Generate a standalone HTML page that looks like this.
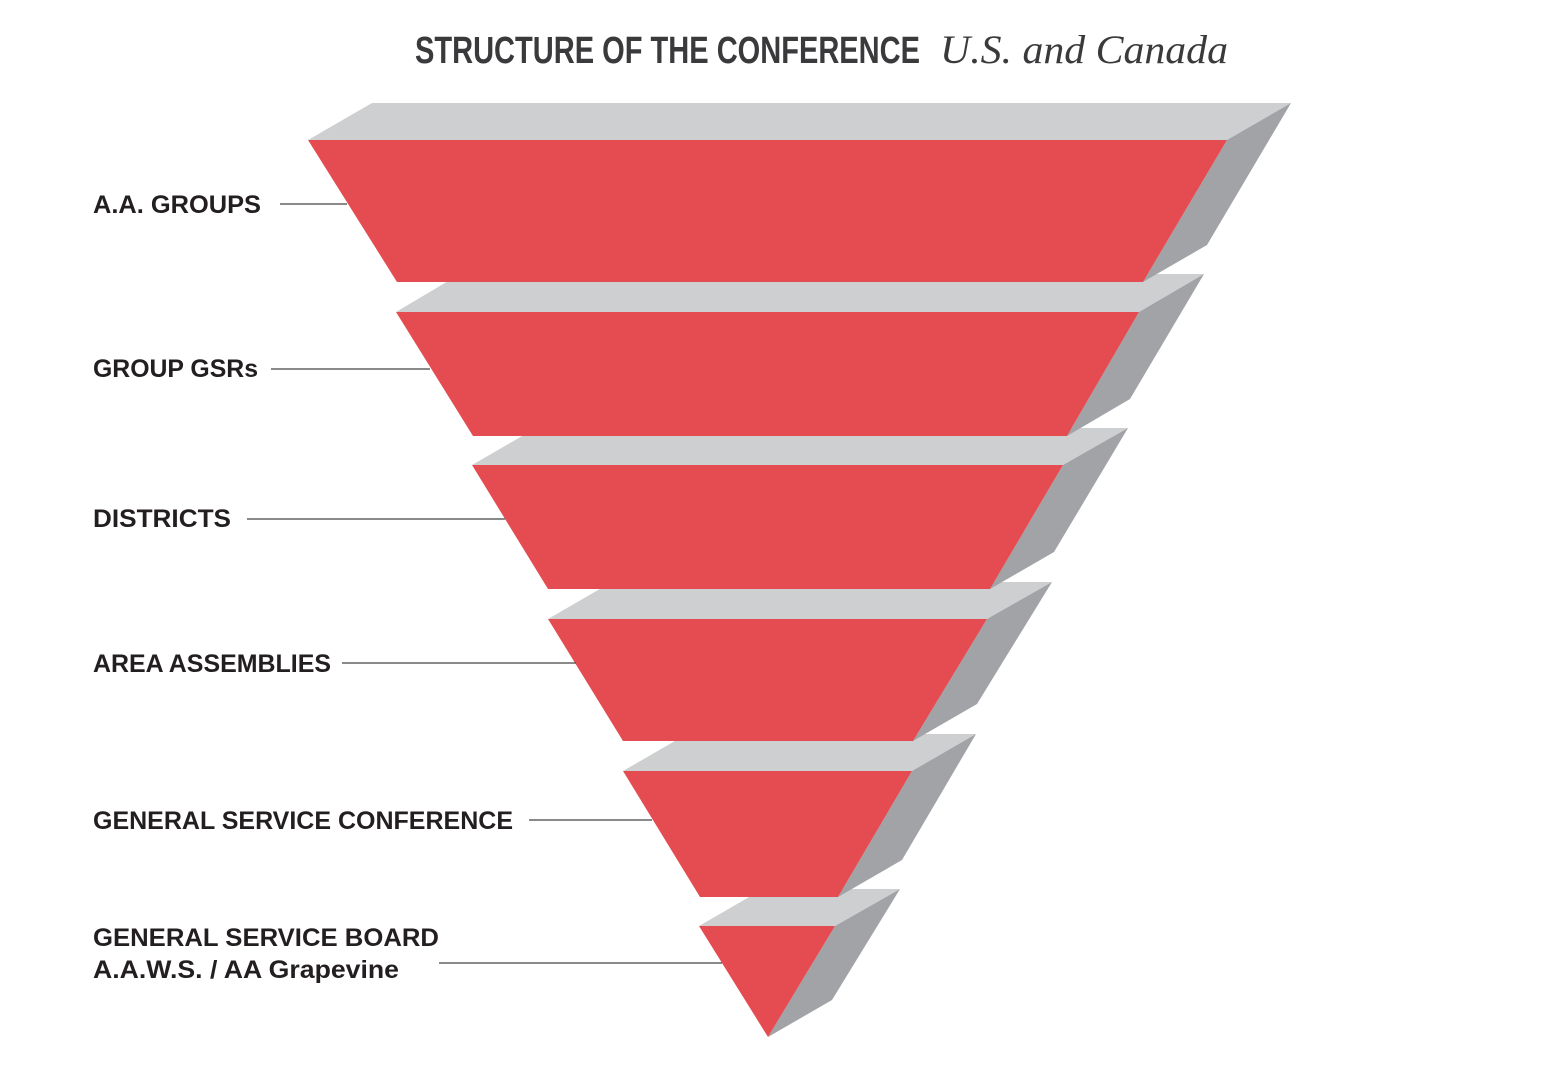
<!DOCTYPE html>
<html><head><meta charset="utf-8"><style>html,body{margin:0;padding:0;background:#fff}</style></head>
<body>
<svg width="1560" height="1075" viewBox="0 0 1560 1075" xmlns="http://www.w3.org/2000/svg">
<rect width="1560" height="1075" fill="#fff"/>
<text x="415" y="63" font-family="Liberation Sans, sans-serif" font-weight="bold" font-size="38" fill="#3a3a3c" textLength="505" lengthAdjust="spacingAndGlyphs">STRUCTURE OF THE CONFERENCE</text>
<text x="940" y="63" font-family="Liberation Serif, serif" font-style="italic" font-size="40" fill="#3a3a3c" textLength="288" lengthAdjust="spacingAndGlyphs">U.S. and Canada</text>
<g stroke="none">
<!-- L6 -->
<polygon points="699,926 763,889 900,889 835,926" fill="#cdcfd1"/>
<polygon points="835,926 900,889 832,1000 768,1037" fill="#a1a3a6"/>
<polygon points="699,926 835,926 768,1037" fill="#e44c52"/>
<!-- L5 -->
<polygon points="623,771 687,734 976,734 912,771" fill="#cdcfd1"/>
<polygon points="912,771 976,734 902,860 838,897" fill="#a1a3a6"/>
<polygon points="623,771 912,771 838,897 700,897" fill="#e44c52"/>
<!-- L4 -->
<polygon points="548,619 612,582 1052,582 987,619" fill="#cdcfd1"/>
<polygon points="987,619 1052,582 977,704 913,741" fill="#a1a3a6"/>
<polygon points="548,619 987,619 913,741 623,741" fill="#e44c52"/>
<!-- L3 -->
<polygon points="472,465 536,428 1128,428 1063,465" fill="#cdcfd1"/>
<polygon points="1063,465 1128,428 1054,552 990,589" fill="#a1a3a6"/>
<polygon points="472,465 1063,465 990,589 548,589" fill="#e44c52"/>
<!-- L2 -->
<polygon points="396,312 460,274 1204,274 1139,312" fill="#cdcfd1"/>
<polygon points="1139,312 1204,274 1130,399 1067,436" fill="#a1a3a6"/>
<polygon points="396,312 1139,312 1067,436 473,436" fill="#e44c52"/>
<!-- L1 -->
<polygon points="308,140 372,103 1291,103 1227,140" fill="#cdcfd1"/>
<polygon points="1227,140 1291,103 1207,245 1143,282" fill="#a1a3a6"/>
<polygon points="308,140 1227,140 1143,282 397,282" fill="#e44c52"/>
</g>
<g stroke="#444" stroke-width="1.3">
<line x1="280" y1="204" x2="347" y2="204"/>
<line x1="271" y1="369" x2="430" y2="369"/>
<line x1="247" y1="519" x2="505" y2="519"/>
<line x1="342" y1="663" x2="576" y2="663"/>
<line x1="529" y1="820" x2="652" y2="820"/>
<line x1="439" y1="963" x2="722" y2="963"/>
</g>
<g font-family="Liberation Sans, sans-serif" font-weight="bold" font-size="25" fill="#231f20">
<text x="93" y="213" textLength="168" lengthAdjust="spacingAndGlyphs">A.A. GROUPS</text>
<text x="93" y="377" textLength="165" lengthAdjust="spacingAndGlyphs">GROUP GSRs</text>
<text x="93" y="527" textLength="138" lengthAdjust="spacingAndGlyphs">DISTRICTS</text>
<text x="93" y="672" textLength="238" lengthAdjust="spacingAndGlyphs">AREA ASSEMBLIES</text>
<text x="93" y="829" textLength="420" lengthAdjust="spacingAndGlyphs">GENERAL SERVICE CONFERENCE</text>
<text x="93" y="946" textLength="346" lengthAdjust="spacingAndGlyphs">GENERAL SERVICE BOARD</text>
<text x="93" y="978" textLength="306" lengthAdjust="spacingAndGlyphs">A.A.W.S. / AA Grapevine</text>
</g>
</svg>
</body></html>
